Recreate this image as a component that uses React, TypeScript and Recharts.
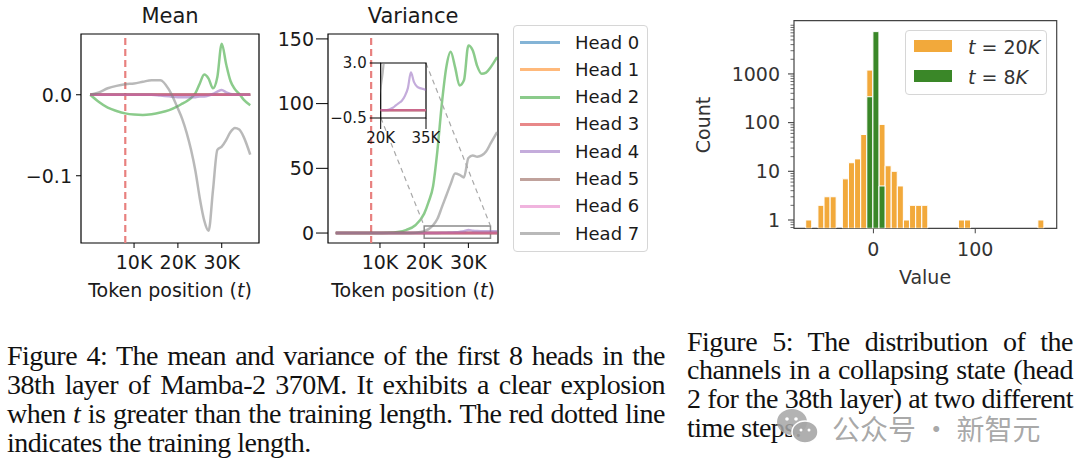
import React from 'react';
import { LineChart, Line, XAxis, YAxis, ReferenceLine, ReferenceArea, BarChart, Bar } from 'recharts';

const FONT = '"DejaVu Sans", sans-serif';
const SERIF = '"Liberation Serif", "Times New Roman", serif';

// token position, in thousands
const T = [0, 2, 4, 6, 8, 10, 12, 14, 16, 18, 20, 21, 22, 23, 24, 25, 26, 27, 28, 29, 30, 31, 32, 33, 34, 35, 36.5];

const HEAD_COLORS = ['#1f77b4', '#ff7f0e', '#2ca02c', '#d62728', '#9467bd', '#8c564b', '#e377c2', '#7f7f7f'];
const HEAD_LABELS = ['Head 0', 'Head 1', 'Head 2', 'Head 3', 'Head 4', 'Head 5', 'Head 6', 'Head 7'];

// mean per head
const MEAN_FLAT = [0, 0, 0, 0, 0, 0, 0, 0, 0, 0, 0, 0, 0, 0, 0, 0, 0, 0, 0, 0, 0, 0, 0, 0, 0, 0, 0];
const MEAN_H2 = [0, -0.009, -0.016, -0.02, -0.023, -0.0245, -0.025, -0.024, -0.022, -0.019, -0.014, -0.011, -0.008, -0.004, 0.002, 0.014, 0.025, 0.02, 0.008, 0.022, 0.063, 0.038, 0.017, 0.007, 0.001, -0.006, -0.013];
const MEAN_H4 = [0, 0, 0, 0, 0, 0, 0, 0, -0.001, -0.002, -0.003, -0.003, -0.003, -0.003, -0.003, -0.002, -0.002, -0.001, 0.001, 0.004, 0.006, 0.003, 0.001, 0, 0, 0, 0];
const MEAN_H7 = [0, 0.003, 0.008, 0.011, 0.013, 0.014, 0.016, 0.018, 0.018, 0.006, -0.017, -0.03, -0.047, -0.068, -0.094, -0.128, -0.155, -0.168, -0.118, -0.068, -0.064, -0.056, -0.046, -0.041, -0.043, -0.052, -0.074];

// variance per head
const VAR_FLAT = [0, 0, 0, 0, 0, 0, 0, 0, 0, 0, 0, 0, 0, 0, 0, 0, 0, 0, 0, 0, 0, 0, 0, 0, 0, 0, 0];
const VAR_H2 = [0, 0, 0, 0, 0, 0.05, 0.2, 0.8, 2.5, 6, 15, 24, 36, 64, 100, 128, 140, 128, 114, 118, 145, 141, 129, 123, 124, 128, 136];
const VAR_H4 = [0, 0, 0, 0, 0, 0, 0, 0, 0, 0, 0, 0, 0, 0.05, 0.15, 0.3, 0.45, 0.6, 0.9, 1.4, 2.4, 1.8, 1.5, 1.4, 1.35, 1.3, 1.3];
const VAR_H7 = [0, 0, 0, 0, 0, 0, 0, 0, 0, 0.3, 1.5, 3, 6, 11, 20, 29, 38, 46, 45, 43, 58, 60, 59, 60, 63, 69, 78];

const MEAN_SERIES = [MEAN_FLAT, MEAN_FLAT, MEAN_H2, MEAN_FLAT, MEAN_H4, MEAN_FLAT, MEAN_FLAT, MEAN_H7];
const VAR_SERIES = [VAR_FLAT, VAR_FLAT, VAR_H2, VAR_FLAT, VAR_H4, VAR_FLAT, VAR_FLAT, VAR_H7];

// histogram of head 2 channels
const BINS_20K = [-63.5, -51.5, -45.5, -39.5, -27.5, -21.5, -15.5, -9.5, -3.5, 2.5, 8.5, 14.5, 20.5, 26.5, 32.5, 38.5, 44.5, 50.5, 86.5, 92.5, 164.5];
const COUNTS_20K = [1, 2, 3, 3, 7, 15, 18, 57, 1200, 6300, 92, 13, 10, 5, 1, 2, 2, 2, 1, 1, 1];
const BINS_8K = [-3.5, 2.5, 8.5];
const COUNTS_8K = [340, 7400, 5];

const HIST_Y_MAJOR = [1, 10, 100, 1000];
const HIST_Y_ALL = [0.7, 0.8, 0.9, 1, 2, 3, 4, 5, 6, 7, 8, 9, 10, 20, 30, 40, 50, 60, 70, 80, 90, 100, 200, 300, 400, 500, 600, 700, 800, 900, 1000, 2000, 3000, 4000, 5000, 6000, 7000, 8000, 9000, 10000];

const CAPTION_4 = [
  'Figure 4: The mean and variance of the first 8 heads in the',
  '38th layer of Mamba-2 370M. It exhibits a clear explosion',
];
const CAPTION_5 = [
  'Figure 5:  The distribution of the',
  'channels in a collapsing state (head',
  '2 for the 38th layer) at two different',
  'time steps.',
];

const toRows = (series: number[][]) =>
  T.map((t, i) => {
    const row: any = { t: t * 1000 };
    series.forEach((s, h) => {
      row['h' + h] = s[i];
    });
    return row;
  });

const meanRows = toRows(MEAN_SERIES);
const varRows = toRows(VAR_SERIES);
const hist20 = BINS_20K.map((x, i) => ({ x, n: COUNTS_20K[i] }));
const hist8 = BINS_8K.map((x, i) => ({ x, n: COUNTS_8K[i] }));

const kfmt = (v: number) => `${Math.round(v / 1000)}K`;
const dec1 = (v: number) => v.toFixed(1).replace('-', '\u2212');

const tickStyle = (size: number, fill = '#1a1a1a') => ({ fill, fontSize: size, fontFamily: FONT });

const headLines = (width = 2.5) =>
  HEAD_COLORS.map((c, h) => (
    <Line
      key={h}
      dataKey={'h' + h}
      type="monotone"
      stroke={c}
      strokeOpacity={0.55}
      strokeWidth={width}
      dot={false}
      isAnimationActive={false}
    />
  ));

const Label = ({ x, y, size = 19, color = '#1a1a1a', rotate = 0, children }: any) => (
  <div
    style={{
      position: 'absolute',
      left: x,
      top: y,
      transform: `translate(-50%, -50%) rotate(${rotate}deg)`,
      whiteSpace: 'nowrap',
      fontFamily: FONT,
      fontSize: size,
      color,
      lineHeight: 1,
    }}
  >
    {children}
  </div>
);

const HistYTick = (props: any) => {
  const { x, y, payload } = props;
  const v = payload.value;
  const major = HIST_Y_MAJOR.includes(v);
  return (
    <g>
      <line x1={x - (major ? 6 : 3.5)} x2={x} y1={y} y2={y} stroke="#444" strokeWidth={major ? 1.1 : 0.8} />
      {major && (
        <text x={x - 14} y={y} dy="0.36em" textAnchor="end" fontSize={19} fontFamily={FONT} fill="#333">
          {v}
        </text>
      )}
    </g>
  );
};

const MeanChart = () => (
  <div style={{ position: 'absolute', left: 0, top: 0 }}>
    <LineChart width={270} height={280} data={meanRows} margin={{ top: 34, right: 11, bottom: 0, left: 0 }}>
      <XAxis
        dataKey="t"
        type="number"
        domain={[-2100, 38500]}
        ticks={[10000, 20000, 30000]}
        tickFormatter={kfmt}
        allowDataOverflow
        height={37}
        tickSize={5}
        tickMargin={8}
        axisLine={false}
        tickLine={{ stroke: '#000' }}
        tick={tickStyle(19)}
      />
      <YAxis
        type="number"
        domain={[-0.183, 0.075]}
        ticks={[-0.1, 0]}
        tickFormatter={dec1}
        allowDataOverflow
        width={81}
        tickSize={5}
        tickMargin={4}
        axisLine={false}
        tickLine={{ stroke: '#000' }}
        tick={tickStyle(19)}
      />
      <ReferenceArea x1={-2100} x2={38500} y1={-0.183} y2={0.075} fill="none" stroke="#000" strokeWidth={1.2} />
      <ReferenceLine x={8000} stroke="#e8807f" strokeDasharray="7 4" strokeWidth={2.2} />
      {headLines()}
    </LineChart>
  </div>
);

const VarianceChart = () => (
  <div style={{ position: 'absolute', left: 258, top: 0 }}>
    <LineChart width={250} height={280} data={varRows} margin={{ top: 34, right: 10, bottom: 0, left: 0 }}>
      <XAxis
        dataKey="t"
        type="number"
        domain={[-1760, 36700]}
        ticks={[10000, 20000, 30000]}
        tickFormatter={kfmt}
        allowDataOverflow
        height={37}
        tickSize={5}
        tickMargin={8}
        axisLine={false}
        tickLine={{ stroke: '#000' }}
        tick={tickStyle(19)}
      />
      <YAxis
        type="number"
        domain={[-7.7, 153.8]}
        ticks={[0, 50, 100, 150]}
        allowDataOverflow
        width={70}
        tickSize={12}
        tickMargin={2}
        axisLine={false}
        tickLine={{ stroke: '#000' }}
        tick={tickStyle(19)}
      />
      <ReferenceArea x1={-1760} x2={36700} y1={-7.7} y2={153.8} fill="none" stroke="#000" strokeWidth={1.2} />
      <ReferenceLine x={8000} stroke="#e8807f" strokeDasharray="7 4" strokeWidth={2.2} />
      {headLines()}
      <ReferenceArea x1={20000} x2={35000} y1={-4} y2={5.5} fill="none" stroke="#8c8c8c" strokeWidth={1.5} />
      <ReferenceLine
        segment={[{ x: 10200, y: 89 }, { x: 20000, y: 5.5 }]}
        stroke="#a8a8a8"
        strokeDasharray="5 4"
        strokeWidth={1.2}
      />
      <ReferenceLine
        segment={[{ x: 20400, y: 131.4 }, { x: 35000, y: 5.5 }]}
        stroke="#a8a8a8"
        strokeDasharray="5 4"
        strokeWidth={1.2}
      />
    </LineChart>
  </div>
);

const InsetChart = () => (
  <div style={{ position: 'absolute', left: 320, top: 53 }}>
    <LineChart width={120} height={100} data={varRows} margin={{ top: 10, right: 14, bottom: 0, left: 0 }}>
      <XAxis
        dataKey="t"
        type="number"
        domain={[20000, 35000]}
        ticks={[20000, 35000]}
        tickFormatter={kfmt}
        allowDataOverflow
        height={35}
        tickSize={11}
        tickMargin={3}
        interval={0}
        axisLine={false}
        tickLine={{ stroke: '#000' }}
        tick={tickStyle(15)}
      />
      <YAxis
        type="number"
        domain={[-0.5, 3]}
        ticks={[-0.5, 3]}
        tickFormatter={dec1}
        allowDataOverflow
        width={60.7}
        tickSize={11}
        tickMargin={3}
        interval={0}
        axisLine={false}
        tickLine={{ stroke: '#000' }}
        tick={tickStyle(15)}
      />
      {headLines(2.2)}
      <ReferenceArea x1={20000} x2={35000} y1={-0.5} y2={3} fill="none" stroke="#000" strokeWidth={1.2} />
    </LineChart>
  </div>
);

const HeadLegend = () => (
  <div
    style={{
      position: 'absolute',
      left: 513,
      top: 25,
      width: 135,
      height: 227,
      boxSizing: 'border-box',
      border: '1px solid #d6d6d6',
      borderRadius: 4,
      background: '#fff',
    }}
  >
    {HEAD_LABELS.map((label, i) => (
      <div key={label}>
        <div
          style={{
            position: 'absolute',
            left: 6,
            top: 15 + i * 27.3,
            width: 40,
            height: 3,
            background: HEAD_COLORS[i],
            opacity: 0.55,
          }}
        />
        <div
          style={{
            position: 'absolute',
            left: 61,
            top: 16.5 + i * 27.3,
            transform: 'translateY(-50%)',
            fontFamily: FONT,
            fontSize: 18,
            color: '#1a1a1a',
            whiteSpace: 'nowrap',
            lineHeight: 1,
          }}
        >
          {label}
        </div>
      </div>
    ))}
  </div>
);

const HistChart = () => (
  <div style={{ position: 'absolute', left: 700, top: 0, width: 370, height: 260 }}>
    <div style={{ position: 'absolute', left: 0, top: 0 }}>
      <BarChart width={370} height={260} data={hist20} margin={{ top: 20.7, right: 13.3, bottom: 0, left: 0 }}>
        <XAxis
          dataKey="x"
          type="number"
          domain={[-78, 180]}
          ticks={[0, 100]}
          allowDataOverflow
          height={31.7}
          tickSize={5}
          tickMargin={9}
          axisLine={false}
          tickLine={{ stroke: '#444' }}
          tick={tickStyle(19, '#333')}
        />
        <YAxis
          type="number"
          scale="log"
          domain={[0.675, 12400]}
          ticks={HIST_Y_ALL}
          interval={0}
          allowDataOverflow
          width={94}
          tickSize={0}
          tickMargin={0}
          axisLine={false}
          tickLine={false}
          tick={<HistYTick />}
        />
        <Bar dataKey="n" fill="#f2a93b" stroke="#fff" strokeWidth={1} barSize={6} isAnimationActive={false} />
        <ReferenceArea x1={-78} x2={180} y1={0.675} y2={12400} fill="none" stroke="#444" strokeWidth={1.2} />
      </BarChart>
    </div>
    <div style={{ position: 'absolute', left: 0, top: 0 }}>
      <BarChart width={370} height={260} data={hist8} margin={{ top: 20.7, right: 13.3, bottom: 31.7, left: 94 }}>
        <XAxis hide dataKey="x" type="number" domain={[-78, 180]} allowDataOverflow />
        <YAxis hide type="number" scale="log" domain={[0.675, 12400]} allowDataOverflow />
        <Bar dataKey="n" fill="#3a8728" stroke="#fff" strokeWidth={1} barSize={6} isAnimationActive={false} />
      </BarChart>
    </div>
  </div>
);

const HistLegend = () => (
  <div
    style={{
      position: 'absolute',
      left: 905,
      top: 30,
      width: 142,
      height: 65,
      boxSizing: 'border-box',
      border: '1px solid #d6d6d6',
      borderRadius: 4,
      background: 'rgba(255,255,255,0.8)',
    }}
  >
    {[
      { color: '#f2a93b', num: '20' },
      { color: '#3a8728', num: '8' },
    ].map((e, i) => (
      <div key={e.num}>
        <div style={{ position: 'absolute', left: 8, top: 9 + i * 30, width: 38, height: 12, background: e.color }} />
        <div
          style={{
            position: 'absolute',
            left: 62,
            top: 16 + i * 30,
            transform: 'translateY(-50%)',
            fontFamily: FONT,
            fontSize: 19,
            color: '#333',
            whiteSpace: 'nowrap',
            lineHeight: 1,
          }}
        >
          <i>t</i> = {e.num}
          <i>K</i>
        </div>
      </div>
    ))}
  </div>
);

const capBox = {
  position: 'absolute' as const,
  fontFamily: SERIF,
  fontSize: 28,
  letterSpacing: '-0.5px',
  color: '#111',
};
const justified = { textAlign: 'justify' as const, textAlignLast: 'justify' as const };

const Captions = () => (
  <>
    <div style={{ ...capBox, left: 7, top: 340.5, width: 658, lineHeight: '29.3px' }}>
      {CAPTION_4.map((line) => (
        <div key={line} style={justified}>
          {line}
        </div>
      ))}
      <div style={justified}>
        when <i>t</i> is greater than the training length. The red dotted line
      </div>
      <div>indicates the training length.</div>
    </div>
    <div style={{ ...capBox, left: 687, top: 327.5, width: 386, lineHeight: '28.7px' }}>
      {CAPTION_5.map((line, i) => (
        <div key={line} style={i < CAPTION_5.length - 1 ? justified : undefined}>
          {line}
        </div>
      ))}
    </div>
  </>
);

const Watermark = () => (
  <>
    <svg style={{ position: 'absolute', left: 774, top: 406 }} width={50} height={42}>
      <ellipse cx={18} cy={16} rx={15} ry={13} fill="#a6a6a6" fillOpacity={0.85} />
      <ellipse cx={31} cy={26} rx={13} ry={11} fill="#a6a6a6" fillOpacity={0.9} stroke="#fff" strokeWidth={1.5} />
      <circle cx={13} cy={13} r={1.8} fill="#fff" />
      <circle cx={22} cy={13} r={1.8} fill="#fff" />
      <circle cx={27} cy={24} r={1.5} fill="#fff" />
      <circle cx={35} cy={24} r={1.5} fill="#fff" />
    </svg>
    <div
      style={{
        position: 'absolute',
        left: 832,
        top: 428,
        transform: 'translateY(-50%)',
        fontFamily: '"Noto Sans CJK SC", sans-serif',
        fontSize: 28,
        color: 'rgba(130,130,130,0.7)',
        whiteSpace: 'nowrap',
        lineHeight: 1,
      }}
    >
      公众号 · 新智元
    </div>
  </>
);

export default function App() {
  return (
    <div
      style={{
        position: 'absolute',
        left: 0,
        top: 0,
        width: 1080,
        height: 470,
        background: '#fff',
        overflow: 'hidden',
        fontFamily: FONT,
      }}
    >
      <MeanChart />
      <VarianceChart />
      <InsetChart />
      <HeadLegend />
      <HistChart />
      <HistLegend />

      <Label x={170} y={16} size={21}>Mean</Label>
      <Label x={413} y={16} size={21}>Variance</Label>
      <Label x={170} y={290}>
        Token position (<i>t</i>)
      </Label>
      <Label x={413} y={290}>
        Token position (<i>t</i>)
      </Label>
      <Label x={703} y={125} rotate={-90} color="#333">
        Count
      </Label>
      <Label x={925} y={277} color="#333">
        Value
      </Label>

      <Captions />
      <Watermark />
    </div>
  );
}
